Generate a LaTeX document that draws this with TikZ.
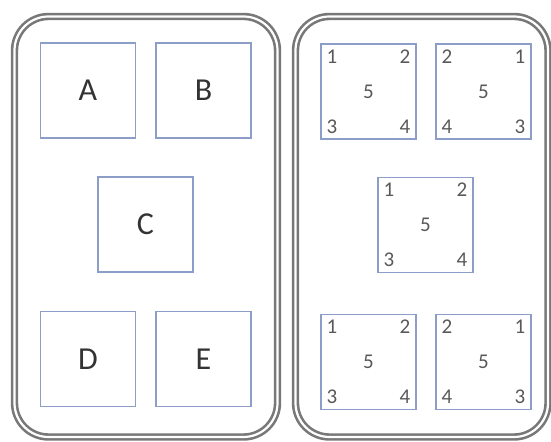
\documentclass[tikz,border=0pt]{standalone}
\usepackage{fontspec}
\setmainfont{Carlito}

\definecolor{boxblue}{RGB}{140,158,200}
\definecolor{rimgray}{RGB}{120,120,120}

\tikzset{
  panel/.style={draw=rimgray, double=white, line width=1.3pt, double distance=1.1pt, rounded corners=17pt},
  cell/.style={draw=boxblue, line width=0.75pt, minimum size=47.5pt, inner sep=0pt},
  letter/.style={cell, font=\fontsize{16}{16}\selectfont, text=black!80},
  numcell/.style={cell, font=\fontsize{10.5}{10.5}\selectfont, text=black!65},
  corner/.style={inner sep=0pt, font=\fontsize{10.5}{10.5}\selectfont, text=black!65}
}

\begin{document}
\begin{tikzpicture}[x=0.5pt,y=-0.5pt]
\useasboundingbox (0,0) rectangle (551,442);
% the two panels
\draw[panel] (14.5,16.5) rectangle (277.5,437);
\draw[panel] (295.5,16.5) rectangle (548,437);
% left panel
\node[letter] (a) at (88,90.5) {A};
\node[letter] (b) at (203.5,90.5) {B};
\node[letter] (c) at (145.5,224.5) {C};
\node[letter] (d) at (88,359) {D};
\node[letter] (e) at (203.5,359) {E};
% right panel
\node[numcell] (p1) at (368.5,91.5) {5};
\node[numcell] (p2) at (483.5,91.5) {5};
\node[numcell] (p3) at (425.5,225) {5};
\node[numcell] (p4) at (368.5,362) {5};
\node[numcell] (p5) at (483.5,362) {5};
% corner numbers
\foreach \n/\tl/\tr/\bl/\br in {p1/1/2/3/4, p2/2/1/4/3, p3/1/2/3/4, p4/1/2/3/4, p5/2/1/4/3} {
  \node[corner, anchor=north west] (\n tl) at ([shift={(3pt,-3pt)}]\n.north west) {\tl};
  \node[corner, anchor=north east] (\n tr) at ([shift={(-3pt,-3pt)}]\n.north east) {\tr};
  \node[corner, anchor=south west] (\n bl) at ([shift={(3pt,3pt)}]\n.south west) {\bl};
  \node[corner, anchor=south east] (\n br) at ([shift={(-3pt,3pt)}]\n.south east) {\br};
}
\end{tikzpicture}
\end{document}
